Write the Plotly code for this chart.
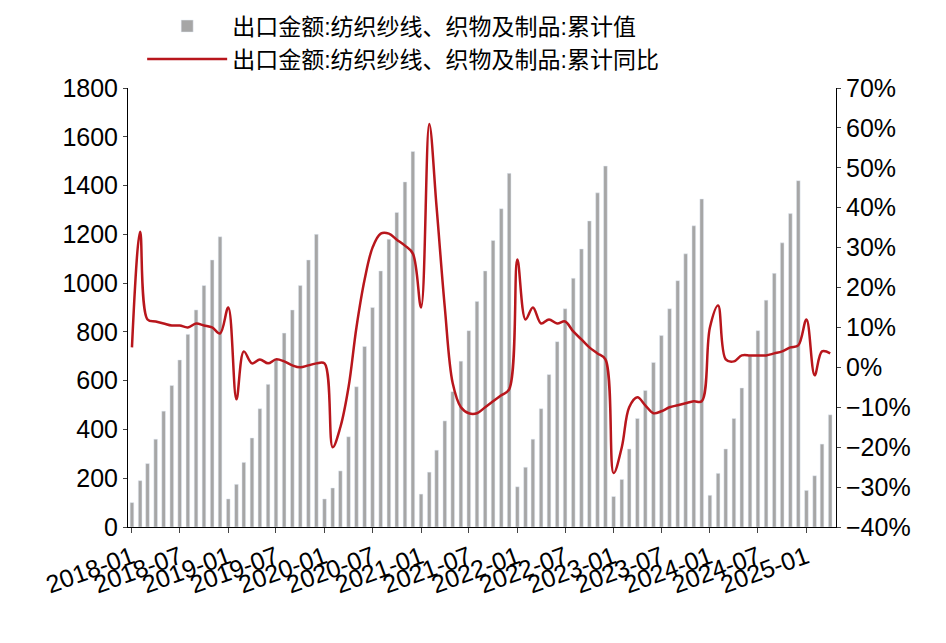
import plotly.graph_objects as go

months = [f"{y}-{m:02d}-01" for y in range(2018, 2026) for m in range(1, 13)][:88]

export_cum = [
    100, 190, 260, 360, 475, 580, 685, 790, 890, 990, 1095, 1190,
    115, 175, 265, 365, 485, 585, 690, 795, 890, 990, 1095, 1200,
    115, 160, 230, 370, 575, 740, 900, 1050, 1180, 1290, 1415, 1540,
    135, 225, 315, 435, 555, 680, 805, 925, 1050, 1175, 1305, 1450,
    165, 245, 360, 485, 625, 760, 895, 1020, 1140, 1255, 1370, 1480,
    125, 195, 320, 445, 560, 675, 785, 895, 1010, 1120, 1235, 1345,
    130, 220, 320, 445, 570, 700, 805, 930, 1040, 1165, 1285, 1420,
    150, 210, 340, 460,
]

yoy_pct = [
    5, 34, 12, 11.5, 11, 10.5, 10.5, 10, 11, 10.5, 10, 8.5,
    15, -8, 4, 1, 2, 1, 2, 1.5, 0.5, 0, 0.5, 1,
    1, -20, -15, -5, 10, 22, 30, 33.5, 33.5, 32, 30.5, 28.5,
    15, 61, 40, 15, -4, -10, -11.5, -11.5, -10, -8.5, -7, -5.5,
    27, 12, 15, 11, 12, 11, 11.5, 9, 7, 5, 3.5, 2,
    -26.5, -20, -10, -7.5, -9.5, -11.5, -11, -10, -9.5, -9, -8.5, -8.5,
    10, 15.5, 2, 1.5, 3, 3, 3, 3, 3.5, 4, 5, 5.5,
    12, -2, 4, 3.5,
]
yoy = [v / 100 for v in yoy_pct]

fig = go.Figure()
fig.add_trace(go.Bar(x=months, y=export_cum, name="出口金额:纺织纱线、织物及制品:累计值",
                     marker_color="#a6a6a6"))
fig.add_trace(go.Scatter(x=months, y=yoy, name="出口金额:纺织纱线、织物及制品:累计同比",
                         yaxis="y2", mode="lines", line=dict(color="#b8161c", width=2.5, shape="spline")))

fig.update_layout(
    width=946, height=643, plot_bgcolor="white", paper_bgcolor="white",
    font=dict(family="Liberation Sans, Noto Sans CJK SC", size=25, color="black"),
    margin=dict(l=120, r=118, t=80, b=124, autoexpand=False),
    bargap=0.5, showlegend=True,
    legend=dict(x=0.02, y=1.19, xanchor="left", yanchor="top", font=dict(size=23),
                bgcolor="rgba(0,0,0,0)", tracegroupgap=0, itemwidth=80),
    xaxis=dict(type="date", range=["2017-12-17", "2025-04-23"], tickformat="%Y-%m",
               dtick="M6", tick0="2018-01-01", tickangle=-20, showline=True, linecolor="black",
               ticks="outside", ticklen=5, showgrid=False),
    yaxis=dict(range=[0, 1800], dtick=200, showline=True, linecolor="black", showgrid=False,
               ticks="outside", ticklen=4, zeroline=False),
    yaxis2=dict(range=[-0.4, 0.7], dtick=0.1, tickformat=".0%", overlaying="y", side="right",
                showline=True, linecolor="black", showgrid=False, ticks="outside", ticklen=4,
                zeroline=False),
)
fig.write_html("out.html")
